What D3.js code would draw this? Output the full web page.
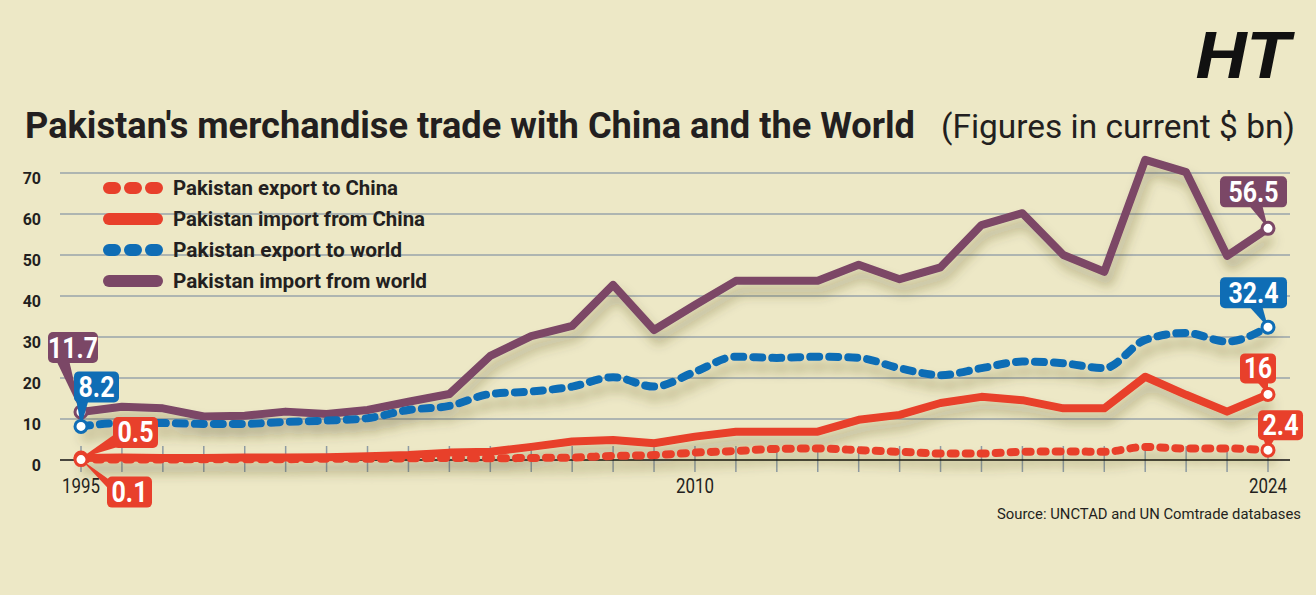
<!DOCTYPE html>
<html>
<head>
<meta charset="utf-8">
<script src="https://cdn.jsdelivr.net/npm/d3@7"></script>
<style>
  html, body { margin: 0; padding: 0; background: #ede8c6; }
  svg { display: block; }
  text { font-family: Roboto, "Open Sans", "DejaVu Sans", sans-serif; }
</style>
</head>
<body>
<div id="chart"></div>
<script>
// data ($ bn)
const years = [1995, 1996, 1997, 1998, 1999, 2000, 2001, 2002, 2003, 2004,
  2005, 2006, 2007, 2008, 2009, 2010, 2011, 2012, 2013, 2014,
  2015, 2016, 2017, 2018, 2019, 2020, 2021, 2022, 2023, 2024];
const exportChina = [0.1, 0.1, 0.1, 0.2, 0.2, 0.2, 0.3, 0.3, 0.4, 0.5,
  0.4, 0.5, 0.6, 1.0, 1.2, 1.8, 2.2, 2.7, 2.8, 2.4,
  2.0, 1.6, 1.6, 2.0, 2.1, 2.0, 3.2, 2.8, 2.8, 2.4];
const importChina = [0.5, 0.6, 0.5, 0.5, 0.6, 0.6, 0.7, 0.9, 1.2, 1.8,
  2.0, 3.2, 4.5, 4.9, 4.1, 5.7, 6.9, 6.9, 6.9, 9.8,
  11.0, 13.9, 15.4, 14.6, 12.6, 12.6, 20.3, 15.9, 11.8, 16];
const exportWorld = [8.2, 9.0, 9.0, 8.8, 8.8, 9.3, 9.6, 10.2, 12.2, 13.2,
  16.1, 16.7, 17.9, 20.2, 17.9, 21.5, 25.2, 24.9, 25.2, 24.9,
  22.4, 20.7, 22.4, 24.0, 23.6, 22.4, 29.3, 31.0, 28.9, 32.4];
const importWorld = [11.7, 13.0, 12.6, 10.6, 10.8, 11.8, 11.2, 12.2, 14.2, 16.1,
  25.4, 30.2, 32.7, 42.7, 31.7, 37.8, 43.7, 43.7, 43.7, 47.6,
  44.1, 47.0, 57.3, 60.2, 50.0, 45.9, 73.2, 70.2, 49.8, 56.5];
const seriesNames = ['Pakistan export to China', 'Pakistan import from China',
  'Pakistan export to world', 'Pakistan import from world'];
const yTicks = [0, 10, 20, 30, 40, 50, 60, 70];
const xTickLabels = [1995, 2010, 2024];

const W = 1316, H = 595;
const red = '#e8402b', blue = '#0f6db5', purple = '#7b4766', ink = '#231f20';

const svg = d3.select('#chart').append('svg')
  .attr('width', W).attr('height', H);

svg.append('rect').attr('width', W).attr('height', H).attr('fill', '#ede8c6');

const defs = svg.append('defs');
const f = defs.append('filter').attr('id', 'shadow')
  .attr('x', '-10%').attr('y', '-30%').attr('width', '120%').attr('height', '160%');
f.append('feDropShadow').attr('dx', 4).attr('dy', 10).attr('stdDeviation', 6)
  .attr('flood-color', '#4a4020').attr('flood-opacity', 0.35);

const x = d3.scaleLinear().domain([1995, 2024]).range([81, 1268]);
const y = d3.scaleLinear().domain([0, 70]).range([460, 173]);

// squeeze text to a target width (the original uses a condensed face)
function fit(sel, w) {
  sel.attr('textLength', w).attr('lengthAdjust', 'spacingAndGlyphs');
  return sel;
}

// title
fit(svg.append('text').attr('x', 25).attr('y', 138)
  .attr('font-size', 36).attr('font-weight', 700).attr('fill', ink)
  .text("Pakistan's merchandise trade with China and the World"), 890);
fit(svg.append('text').attr('x', 941).attr('y', 138)
  .attr('font-size', 34).attr('fill', ink)
  .text('(Figures in current $ bn)'), 354);

// HT masthead
fit(svg.append('text').attr('x', 1196).attr('y', 78)
  .attr('font-family', '"DejaVu Serif", "Liberation Serif", serif')
  .attr('font-size', 64).attr('font-weight', 700).attr('font-style', 'italic')
  .attr('fill', '#111').text('HT'), 95);

// gridlines
svg.append('g').selectAll('line')
  .data(yTicks.filter(d => d > 0))
  .join('line')
  .attr('x1', 60).attr('x2', 1290)
  .attr('y1', d => y(d)).attr('y2', d => y(d))
  .attr('stroke', '#98a5aa').attr('stroke-width', 1.5);

// y labels
svg.append('g').selectAll('text')
  .data(yTicks)
  .join('text')
  .attr('x', 41).attr('y', d => y(d) + 11)
  .attr('text-anchor', 'end')
  .attr('font-size', 16).attr('font-weight', 700).attr('fill', ink)
  .text(d => d);

// year ticks
svg.append('g').selectAll('line')
  .data(years)
  .join('line')
  .attr('x1', d => x(d)).attr('x2', d => x(d))
  .attr('y1', y(0) - 14).attr('y2', y(0) + 12)
  .attr('stroke', '#8e9ba3').attr('stroke-width', 1.5);

svg.append('line')
  .attr('x1', 60).attr('x2', 1290).attr('y1', y(0)).attr('y2', y(0))
  .attr('stroke', '#111').attr('stroke-width', 1.5);

// x labels
svg.append('g').selectAll('text')
  .data(xTickLabels)
  .join('text')
  .attr('x', d => x(d)).attr('y', 493)
  .attr('text-anchor', 'middle')
  .attr('font-size', 21).attr('fill', ink)
  .each(function(d) { fit(d3.select(this), 38); })
  .text(d => d);

fit(svg.append('text').attr('x', 1301).attr('y', 519)
  .attr('text-anchor', 'end')
  .attr('font-size', 15).attr('fill', ink)
  .text('Source: UNCTAD and UN Comtrade databases'), 304);

// legend
const legend = [
  {name: seriesNames[0], color: red, dash: '6,15', w: 225},
  {name: seriesNames[1], color: red, dash: null, w: 252},
  {name: seriesNames[2], color: blue, dash: '6,15', w: 229},
  {name: seriesNames[3], color: purple, dash: null, w: 254}
];
const lg = svg.append('g').selectAll('g').data(legend).join('g')
  .attr('transform', (d, i) => 'translate(0,' + (188 + i * 31) + ')');
lg.append('line')
  .attr('x1', 109).attr('x2', 157)
  .attr('stroke', d => d.color).attr('stroke-width', 12)
  .attr('stroke-linecap', 'round')
  .attr('stroke-dasharray', d => d.dash);
lg.append('text')
  .attr('x', 173).attr('y', 7)
  .attr('font-size', 20).attr('font-weight', 700).attr('fill', ink)
  .each(function(d) { fit(d3.select(this), d.w); })
  .text(d => d.name);

// lines
const series = [
  {values: importWorld, color: purple, dash: null, curve: d3.curveLinear},
  {values: exportWorld, color: blue, dash: '9,10', curve: d3.curveMonotoneX},
  {values: importChina, color: red, dash: null, curve: d3.curveLinear},
  {values: exportChina, color: red, dash: '5,10', curve: d3.curveMonotoneX}
];

const plot = svg.append('g').attr('filter', 'url(#shadow)');
series.forEach(s => {
  const line = d3.line()
    .x((d, i) => x(years[i]))
    .y(d => y(d))
    .curve(s.curve);
  plot.append('path')
    .datum(s.values)
    .attr('d', line)
    .attr('fill', 'none')
    .attr('stroke', s.color)
    .attr('stroke-width', 8)
    .attr('stroke-linejoin', 'round')
    .attr('stroke-linecap', s.dash ? 'round' : 'butt')
    .attr('stroke-dasharray', s.dash);
});

// callouts: box offset and wedge base are relative to the data point
const callouts = [
  {values: importWorld, i: 29, color: purple, box: [-48, -52, 67, 31], base: [[-20, -24], [-6, -24]]},
  {values: exportWorld, i: 29, color: blue, box: [-48, -50, 67, 31], base: [[-20, -22], [-6, -22]]},
  {values: importChina, i: 29, color: red, box: [-28, -41, 36, 30], base: [[-12, -14], [0, -14]]},
  {values: exportChina, i: 29, color: red, box: [-10, -40, 45, 30], base: [[-6, -14], [8, -14]]},
  {values: importWorld, i: 0, color: purple, box: [-33, -80, 50, 31], base: [[-25, -52], [-12, -52]]},
  {values: exportWorld, i: 0, color: blue, box: [-7, -55, 45, 31], base: [[-5, -28], [8, -28]]},
  {values: importChina, i: 0, color: red, box: [32, -41, 45, 31], base: [[34, -24], [40, -12]]},
  {values: exportChina, i: 0, color: red, box: [26, 17, 45, 31], base: [[28, 20], [30, 32]]}
];

const cg = svg.append('g');
callouts.forEach(c => {
  const px = x(years[c.i]), py = y(c.values[c.i]);
  const [bx, by, bw, bh] = c.box;
  cg.append('polygon')
    .attr('points', [[px, py], [px + c.base[0][0], py + c.base[0][1]], [px + c.base[1][0], py + c.base[1][1]]]
      .map(p => p.join(',')).join(' '))
    .attr('fill', c.color);
  cg.append('rect')
    .attr('x', px + bx).attr('y', py + by)
    .attr('width', bw).attr('height', bh)
    .attr('rx', 5).attr('fill', c.color);
  const label = String(c.values[c.i]);
  cg.append('text')
    .attr('x', px + bx + bw / 2).attr('y', py + by + bh / 2 + 10)
    .attr('text-anchor', 'middle')
    .attr('font-size', 29).attr('font-weight', 700).attr('fill', '#fff')
    .attr('textLength', label.length * 14 - (label.includes('.') ? 6 : 0))
    .attr('lengthAdjust', 'spacingAndGlyphs')
    .text(label);
  cg.append('circle')
    .attr('cx', px).attr('cy', py).attr('r', 6)
    .attr('fill', '#fff').attr('stroke', c.color).attr('stroke-width', 3);
});
</script>
</body>
</html>
